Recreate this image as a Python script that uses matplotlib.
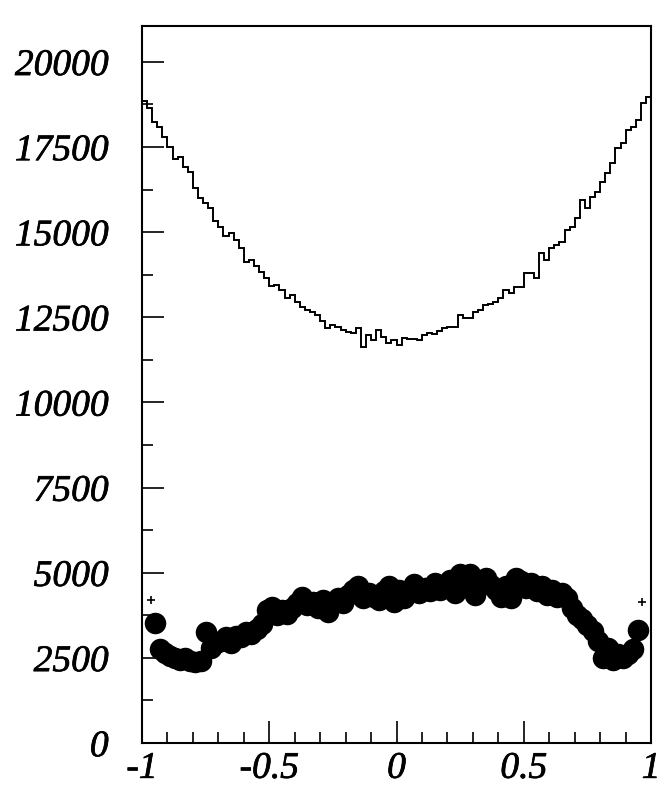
import numpy as np
import matplotlib.pyplot as plt
import matplotlib.patheffects as pe
from matplotlib.ticker import MultipleLocator

plt.rcParams['font.family'] = 'Liberation Serif'
plt.rcParams['axes.unicode_minus'] = False

# histogram: 100 bins over [-1, 1]
edges = np.linspace(-1, 1, 101)
counts = [
    18850, 18650, 18235, 18100, 17800, 17500, 17150, 17200, 16900, 16760,
    16290, 16000, 15850, 15700, 15320, 15150, 14880, 14970, 14760, 14530,
    14120, 14180, 14000, 13820, 13650, 13410, 13440, 13290, 13060, 13150,
    12940, 12800, 12700, 12650, 12560, 12400, 12175, 12260, 12200, 12120,
    12060, 12030, 12175, 11620, 11970, 11820, 12120, 11910, 11730, 11820,
    11675, 11880, 11850, 11850, 11820, 11970, 12030, 12000, 12100, 12175,
    12200, 12200, 12560, 12470, 12470, 12650, 12700, 12850, 12900, 12940,
    13060, 13290, 13200, 13380, 13380, 13790, 13790, 13650, 14380, 14180,
    14530, 14620, 14700, 15060, 15150, 15410, 15940, 15700, 16030, 16180,
    16470, 16730, 17030, 17470, 17615, 18000, 18090, 18290, 18790, 18970,
]

# selected events, drawn as big dots
dot_x = np.round(np.arange(-0.95, 0.951, 0.02), 2)
dot_y = [
    3530, 2770, 2650, 2550, 2500, 2450, 2500, 2400, 2380, 2420,
    3250, 2800, 2950, 3000, 3100, 2950, 3150, 3100, 3250, 3200,
    3350, 3500, 3900, 4000, 3750, 3900, 3800, 3950, 4100, 4290,
    4050, 4150, 3950, 4200, 3850, 4150, 4250, 4100, 4350, 4500,
    4620, 4250, 4400, 4300, 4200, 4450, 4620, 4150, 4500, 4250,
    4450, 4680, 4400, 4550, 4450, 4710, 4500, 4600, 4800, 4400,
    4970, 4600, 4950, 4350, 4700, 4850, 4650, 4500, 4300, 4600,
    4250, 4850, 4750, 4550, 4700, 4450, 4600, 4350, 4500, 4300,
    4400, 4250, 3950, 3750, 3650, 3450, 3300, 3000, 2500, 2800,
    2450, 2600, 2500, 2600, 2750, 3320,
]

# small error-bar crosses at the edges
edge_x = [-0.965, 0.965]
edge_y = [4200, 4150]

fig = plt.figure(figsize=(6.62, 7.89), dpi=100)
ax = fig.add_axes([0.2145, 0.0583, 0.769, 0.9087])

ax.stairs(counts, edges, color='black', linewidth=1.4)
ax.plot(dot_x, dot_y, 'o', color='black', markersize=15.5, markeredgewidth=0)
ax.plot(edge_x, edge_y, '+', color='black', markersize=6, markeredgewidth=1.2)

ax.set_xlim(-1, 1)
ax.set_ylim(0, 21050)

ax.xaxis.set_minor_locator(MultipleLocator(0.1))
ax.yaxis.set_minor_locator(MultipleLocator(1250))
ax.set_xticks([-1, -0.5, 0, 0.5, 1])
ax.set_xticklabels(['-1', '-0.5', '0', '0.5', '1'])
ax.set_yticks(np.arange(0, 20001, 2500))
ax.set_yticklabels([str(v) for v in range(0, 20001, 2500)])

ax.tick_params(which='both', direction='in', top=False, right=False, width=1.2)
ax.tick_params(which='major', length=16)
ax.tick_params(which='minor', length=8)
ax.tick_params(axis='y', which='major', pad=24)
ax.tick_params(axis='x', which='major', pad=6)
# italic labels, slightly heavier strokes
for lab in ax.get_xticklabels() + ax.get_yticklabels():
    lab.set_fontsize(27)
    lab.set_fontstyle('italic')
    lab.set_path_effects([pe.withStroke(linewidth=0.5, foreground='black')])

for s in ax.spines.values():
    s.set_linewidth(1.5)

fig.savefig('out.png', dpi=100)
